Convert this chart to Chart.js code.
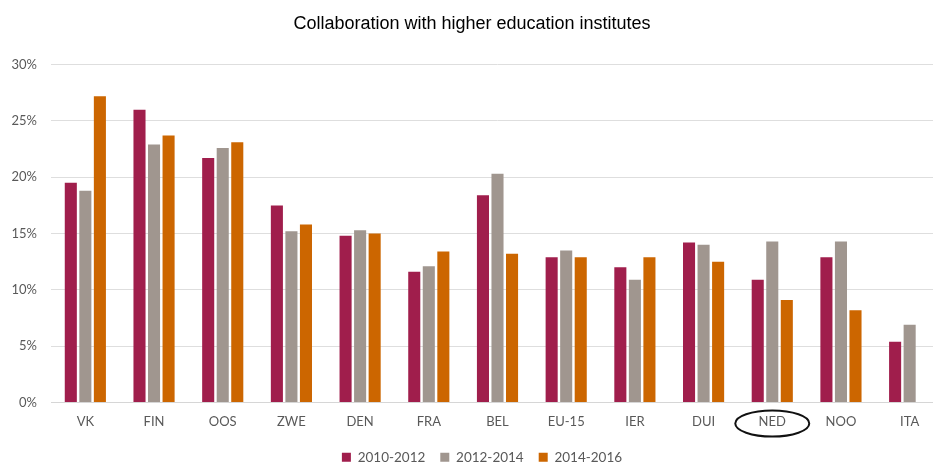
<!DOCTYPE html>
<html>
<head>
<meta charset="utf-8">
<script src="https://cdn.jsdelivr.net/npm/chart.js@4"></script>
<style>
    html, body { margin: 0; padding: 0; background: #fff; }
    #wrap { width: 933px; height: 464px; overflow: hidden; }
</style>
</head>
<body>
<div id="wrap"><canvas id="chart" width="945" height="474"></canvas></div>
<script>
const countries = ['VK', 'FIN', 'OOS', 'ZWE', 'DEN', 'FRA', 'BEL', 'EU-15', 'IER', 'DUI', 'NED', 'NOO', 'ITA'];
const period1 = [19.5, 26.0, 21.7, 17.5, 14.8, 11.6, 18.4, 12.9, 12.0, 14.2, 10.9, 12.9, 5.4];
const period2 = [18.8, 22.9, 22.6, 15.2, 15.3, 12.1, 20.3, 13.5, 10.9, 14.0, 14.3, 14.3, 6.9];
const period3 = [27.2, 23.7, 23.1, 15.8, 15.0, 13.4, 13.2, 12.9, 12.9, 12.5, 9.1, 8.2, null];
const periodLabels = ['2010-2012', '2012-2014', '2014-2016'];
const highlighted = 'NED';

const tickFont = { family: 'Lato, "Open Sans", sans-serif', size: 13 };

// ring drawn around the highlighted category label
const ringPlugin = {
    id: 'ring',
    afterLayout(chart) {
        // legend sits a little right of centre in the original
        chart.legend.left += 10;
        chart.legend.right += 10;
    },
    afterDraw(chart) {
        const x = chart.scales.x.getPixelForValue(countries.indexOf(highlighted));
        const y = chart.chartArea.bottom + 21;
        const ctx = chart.ctx;
        ctx.save();
        ctx.beginPath();
        ctx.ellipse(x, y, 37, 13, 0, 0, Math.PI * 2);
        ctx.lineWidth = 2;
        ctx.strokeStyle = '#111';
        ctx.stroke();
        ctx.restore();
    }
};

const ctx = document.getElementById('chart').getContext('2d');
new Chart(ctx, {
    type: 'bar',
    data: {
        labels: countries,
        datasets: [
            { label: periodLabels[0], data: period1, backgroundColor: '#A01E4C' },
            { label: periodLabels[1], data: period2, backgroundColor: '#A0968F' },
            { label: periodLabels[2], data: period3, backgroundColor: '#CC6600' }
        ]
    },
    options: {
        responsive: false,
        animation: false,
        layout: { padding: { left: 0, right: 1, bottom: 0 } },
        datasets: {
            bar: { categoryPercentage: 0.635, barPercentage: 0.83 }
        },
        scales: {
            x: {
                grid: { display: false, drawTicks: false },
                border: { color: '#d6d6d6' },
                ticks: { color: '#595959', font: tickFont, padding: 12 },
                afterFit(scale) { scale.height = 33; }
            },
            y: {
                min: 0,
                max: 30,
                grid: { color: '#dedede', drawTicks: false },
                border: { display: false },
                ticks: {
                    stepSize: 5,
                    color: '#595959',
                    font: tickFont,
                    padding: 14,
                    callback: v => v + '%'
                },
                afterFit(scale) { scale.width = 51; }
            }
        },
        plugins: {
            title: {
                display: true,
                text: 'Collaboration with higher education institutes',
                color: '#000',
                font: { family: '"Liberation Sans", Arial, sans-serif', size: 18, weight: 'normal' },
                padding: { top: 13, bottom: 30 }
            },
            legend: {
                position: 'bottom',
                labels: {
                    color: '#595959',
                    font: { family: tickFont.family, size: 13.5 },
                    boxWidth: 9,
                    boxHeight: 9,
                    padding: 15
                }
            },
            tooltip: { enabled: false }
        }
    },
    plugins: [ringPlugin]
});
</script>
</body>
</html>
